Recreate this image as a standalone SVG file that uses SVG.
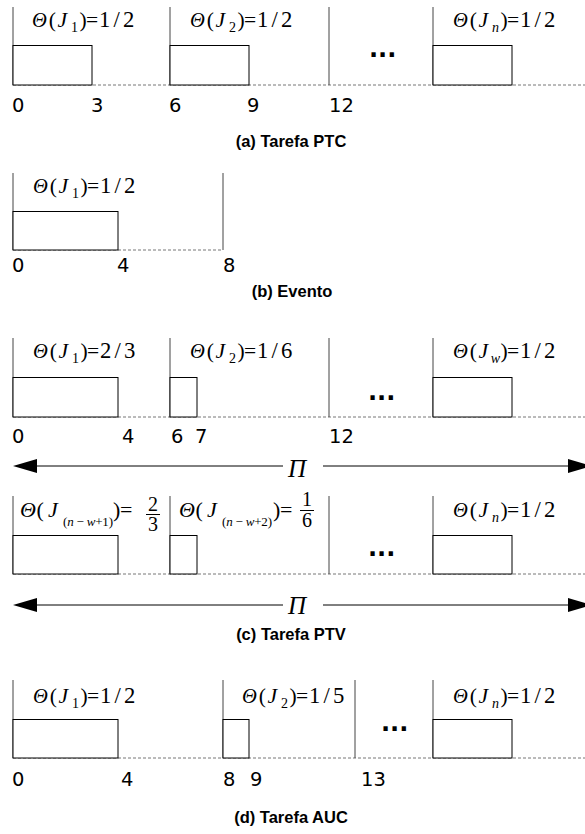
<svg xmlns="http://www.w3.org/2000/svg" width="585" height="834" viewBox="0 0 585 834">
<style>
.bg{fill:#fff}
.box{fill:#fff;stroke:#000;stroke-width:1}
.vl{stroke:#444;stroke-width:1}
.base{stroke:#777;stroke-width:1;stroke-dasharray:3 2}
.m{font-family:"Liberation Serif",serif;font-size:20px;fill:#000}
.t{font-family:"Liberation Serif",serif;font-size:19px;font-style:italic;fill:#000}
.v{font-family:"Liberation Serif",serif;font-size:21px;letter-spacing:3px;fill:#000}
.L{font-size:22px}
.i{font-style:italic}
.s{font-family:"Liberation Serif",serif;font-size:13px;fill:#000}
.num{font-family:"DejaVu Sans",sans-serif;font-size:19.5px;fill:#000}
.cap{font-family:"Liberation Sans",Arial,sans-serif;font-size:16.5px;font-weight:bold;fill:#000;text-anchor:middle}
.dots{font-family:"DejaVu Sans",sans-serif;font-size:24px;font-weight:bold;fill:#000}
.pi{font-family:"Liberation Serif",serif;font-size:25px;font-style:italic;fill:#000}
.arr{stroke:#000;stroke-width:1}
</style>
<defs>
<g id="lab-pre">
<text class="t" x="0">Θ</text><text class="m" x="15.5">(</text><text class="m i" x="23.5">J</text><text class="m" x="44">)</text><text class="m" x="50">=</text>
</g>
<g id="lab-half">
<use href="#lab-pre"/><text class="v" x="62">1/2</text>
</g>
</defs>
<rect class="bg" x="0" y="0" width="585" height="834"/>

<!-- (a) Tarefa PTC -->
<g id="a-baseline"><line class="base" x1="13" y1="85" x2="585" y2="85"/></g>
<g id="a-J1">
<line class="vl" x1="13" y1="7" x2="13" y2="85"/>
<rect class="box" x="13" y="45.5" width="79" height="39.5"/>
<g transform="translate(32,27) scale(1.08)"><use href="#lab-half"/><text class="s" x="36" y="4.5">1</text></g>
</g>
<g id="a-J2">
<line class="vl" x1="170" y1="7" x2="170" y2="85"/>
<rect class="box" x="170" y="45.5" width="79" height="39.5"/>
<g transform="translate(190,27) scale(1.08)"><use href="#lab-half"/><text class="s" x="36" y="4.5">2</text></g>
</g>
<g id="a-end"><line class="vl" x1="329" y1="7" x2="329" y2="85"/></g>
<text class="dots" x="369" y="57">...</text>
<g id="a-Jn">
<line class="vl" x1="433" y1="7" x2="433" y2="85"/>
<rect class="box" x="433" y="45.5" width="79" height="39.5"/>
<g transform="translate(453,27) scale(1.08)"><use href="#lab-half"/><text class="s i" x="36" y="4.5">n</text></g>
</g>
<text class="num" x="12" y="112">0</text>
<text class="num" x="91" y="112">3</text>
<text class="num" x="169" y="112">6</text>
<text class="num" x="247" y="112">9</text>
<text class="num" x="329" y="112">12</text>
<text class="cap" x="291" y="147">(a) Tarefa PTC</text>

<!-- (b) Evento -->
<g id="b-baseline"><line class="base" x1="13" y1="250" x2="223" y2="250"/></g>
<g id="b-J1">
<line class="vl" x1="13" y1="173" x2="13" y2="250"/>
<rect class="box" x="13" y="211.5" width="105" height="38.5"/>
<g transform="translate(33,193) scale(1.08)"><use href="#lab-half"/><text class="s" x="36" y="4.5">1</text></g>
<line class="vl" x1="223" y1="173" x2="223" y2="250"/>
</g>
<text class="num" x="12" y="272">0</text>
<text class="num" x="117" y="272">4</text>
<text class="num" x="223" y="272">8</text>
<text class="cap" x="292" y="297">(b) Evento</text>

<!-- (c) Tarefa PTV row 1 -->
<g id="c1-baseline"><line class="base" x1="13" y1="417" x2="585" y2="417"/></g>
<g id="c1-J1">
<line class="vl" x1="13" y1="338" x2="13" y2="417"/>
<rect class="box" x="13" y="377.5" width="105" height="39.5"/>
<g transform="translate(33,358) scale(1.08)">
<use href="#lab-pre"/><text class="s" x="36" y="4.5">1</text><text class="v" x="62">2/3</text>
</g>
</g>
<g id="c1-J2">
<line class="vl" x1="170" y1="338" x2="170" y2="417"/>
<rect class="box" x="170" y="377.5" width="27" height="39.5"/>
<g transform="translate(190,358) scale(1.08)">
<use href="#lab-pre"/><text class="s" x="36" y="4.5">2</text><text class="v" x="62">1/6</text>
</g>
</g>
<g id="c1-end"><line class="vl" x1="329" y1="338" x2="329" y2="417"/></g>
<text class="dots" x="368" y="400">...</text>
<g id="c1-Jw">
<line class="vl" x1="433" y1="338" x2="433" y2="417"/>
<rect class="box" x="433" y="377.5" width="79" height="39.5"/>
<g transform="translate(453,358) scale(1.08)"><use href="#lab-half"/><text class="s i" x="35" y="4.5">w</text></g>
</g>
<text class="num" x="12" y="443">0</text>
<text class="num" x="122" y="443">4</text>
<text class="num" x="171" y="443">6</text>
<text class="num" x="195" y="443">7</text>
<text class="num" x="329" y="443">12</text>

<!-- (c) row 2 -->
<g id="c2-baseline"><line class="base" x1="13" y1="574" x2="585" y2="574"/></g>
<g id="c2-J1">
<line class="vl" x1="13" y1="496" x2="13" y2="574"/>
<rect class="box" x="13" y="535.5" width="105" height="38.5"/>
<text class="t L" x="20" y="517">Θ</text><text class="m L" x="36.5" y="517">(</text><text class="m L i" x="48" y="517">J</text>
<text class="s" x="63" y="526" textLength="50" lengthAdjust="spacing">(<tspan class="i">n</tspan> − <tspan class="i">w</tspan>+1)</text>
<text class="m L" x="113" y="517">)</text><text class="m L" x="120" y="517">=</text>
<text class="m" x="148" y="511">2</text><line class="arr" x1="146" y1="514.5" x2="160" y2="514.5"/><text class="m" x="148" y="531">3</text>
</g>
<g id="c2-J2">
<line class="vl" x1="170" y1="496" x2="170" y2="574"/>
<rect class="box" x="170" y="535.5" width="27" height="38.5"/>
<text class="t L" x="179" y="517">Θ</text><text class="m L" x="195.5" y="517">(</text><text class="m L i" x="207" y="517">J</text>
<text class="s" x="222" y="526" textLength="50" lengthAdjust="spacing">(<tspan class="i">n</tspan> − <tspan class="i">w</tspan>+2)</text>
<text class="m L" x="273" y="517">)</text><text class="m L" x="280" y="517">=</text>
<text class="m" x="302" y="506">1</text><line class="arr" x1="300" y1="510.5" x2="314" y2="510.5"/><text class="m" x="302" y="527">6</text>
</g>
<g id="c2-end"><line class="vl" x1="329" y1="496" x2="329" y2="574"/></g>
<text class="dots" x="368" y="556">...</text>
<g id="c2-Jn">
<line class="vl" x1="433" y1="496" x2="433" y2="574"/>
<rect class="box" x="433" y="535.5" width="79" height="38.5"/>
<g transform="translate(453,517) scale(1.08)"><use href="#lab-half"/><text class="s i" x="36" y="4.5">n</text></g>
</g>

<!-- connectors: period arrows -->
<g id="connectors">
<line class="arr" x1="36" y1="466" x2="283" y2="466"/>
<polygon points="13,466 37,459 37,473" fill="#000"/>
<line class="arr" x1="323" y1="466" x2="569" y2="466"/>
<polygon points="592,466 568,459 568,473" fill="#000"/>
<line class="arr" x1="36" y1="605" x2="283" y2="605"/>
<polygon points="13,605 37,598 37,612" fill="#000"/>
<line class="arr" x1="323" y1="605" x2="569" y2="605"/>
<polygon points="592,605 568,598 568,612" fill="#000"/>
</g>
<text class="pi" x="288" y="477">Π</text>
<text class="pi" x="288" y="614">Π</text>
<text class="cap" x="291" y="640">(c) Tarefa PTV</text>

<!-- (d) Tarefa AUC -->
<g id="d-baseline"><line class="base" x1="13" y1="758" x2="585" y2="758"/></g>
<g id="d-J1">
<line class="vl" x1="13" y1="680" x2="13" y2="758"/>
<rect class="box" x="13" y="719.5" width="105" height="38.5"/>
<g transform="translate(33,703) scale(1.08)"><use href="#lab-half"/><text class="s" x="36" y="4.5">1</text></g>
</g>
<g id="d-J2">
<line class="vl" x1="223" y1="680" x2="223" y2="758"/>
<rect class="box" x="223" y="719.5" width="26" height="38.5"/>
<g transform="translate(242,703) scale(1.08)">
<use href="#lab-pre"/><text class="s" x="36" y="4.5">2</text><text class="v" x="62">1/5</text>
</g>
</g>
<g id="d-end"><line class="vl" x1="355" y1="680" x2="355" y2="758"/></g>
<text class="dots" x="381" y="731">...</text>
<g id="d-Jn">
<line class="vl" x1="433" y1="680" x2="433" y2="758"/>
<rect class="box" x="433" y="719.5" width="79" height="38.5"/>
<g transform="translate(453,703) scale(1.08)"><use href="#lab-half"/><text class="s i" x="36" y="4.5">n</text></g>
</g>
<text class="num" x="12" y="786">0</text>
<text class="num" x="121" y="786">4</text>
<text class="num" x="223" y="786">8</text>
<text class="num" x="250" y="786">9</text>
<text class="num" x="361" y="786">13</text>
<text class="cap" x="291" y="823">(d) Tarefa AUC</text>
</svg>
